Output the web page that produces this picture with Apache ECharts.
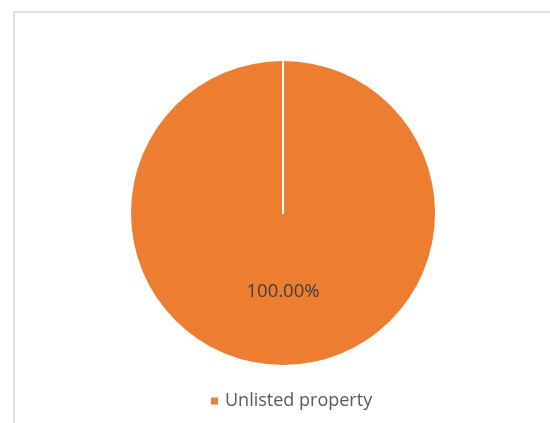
<!DOCTYPE html>
<html>
<head>
<meta charset="utf-8">
<script src="https://cdn.jsdelivr.net/npm/echarts@6/dist/echarts.min.js"></script>
<style>
html,body{margin:0;padding:0;background:#fff;}
#c{width:550px;height:423px;}
</style>
</head>
<body>
<div id="c"></div>
<script>
const categories = ['Unlisted property'];
const values = [100];
const colors = ['#ED7D31'];

const cx = 283, cy = 213, R = 152;
const chart = echarts.init(document.getElementById('c'), null, {renderer: 'canvas'});
chart.setOption({
  animation: false,
  backgroundColor: '#fff',
  color: colors,
  graphic: [
    {type: 'polyline', shape: {points: [[14, 423], [14, 12], [550, 12]]}, style: {stroke: '#e2e2e2', lineWidth: 2, fill: null}, z: 0},
    {type: 'line', shape: {x1: cx, y1: cy - R - 1, x2: cx, y2: cy + 1}, style: {stroke: '#ffffff', lineWidth: 2}, z: 100}
  ],
  legend: {
    left: 206, top: 387,
    itemWidth: 7, itemHeight: 7, itemGap: 20,
    icon: 'rect',
    textStyle: {fontFamily: 'Open Sans', fontSize: 18, color: '#595959', padding: [0, 0, 0, 2]},
    data: categories
  },
  series: [{
    type: 'pie',
    center: [cx, cy],
    radius: R,
    startAngle: 90,
    data: categories.map((n, i) => ({name: n, value: values[i]})),
    label: {
      show: true, position: 'inside',
      formatter: p => p.percent.toFixed(2) + '%',
      fontFamily: 'Open Sans', fontSize: 18.5, color: '#404040'
    },
    labelLine: {show: false},
    itemStyle: {borderColor: '#fff', borderWidth: 0},
    emphasis: {disabled: true}
  }]
});
</script>
</body>
</html>
